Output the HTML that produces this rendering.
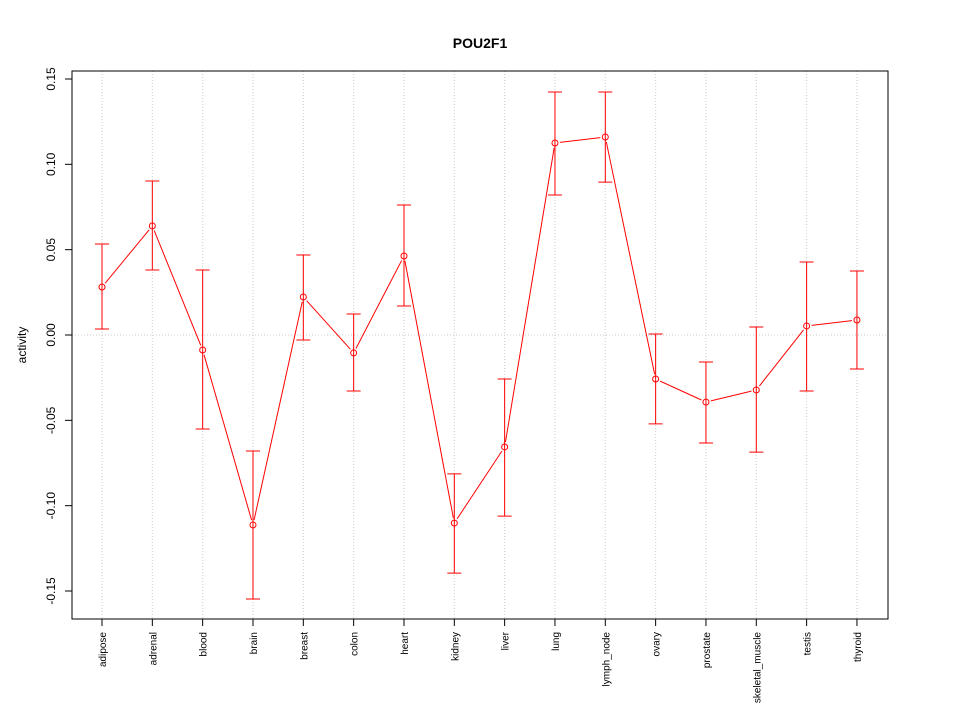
<!DOCTYPE html>
<html><head><meta charset="utf-8"><style>body{margin:0;background:#fff}text{font-family:"Liberation Sans",sans-serif}</style></head>
<body>
<svg id="chart" width="960" height="720" xmlns="http://www.w3.org/2000/svg">
<text x="480" y="48" text-anchor="middle" font-size="14" font-weight="bold">POU2F1</text>
<text transform="translate(26,345) rotate(-90)" text-anchor="middle" font-size="12">activity</text>
<g id="grid"></g><g id="axes"></g><g id="marks"></g>
<rect x="72" y="71" width="816" height="548" fill="none" stroke="#000"/>
</svg>
<script>
const categories=["adipose","adrenal","blood","brain","breast","colon","heart","kidney","liver","lung","lymph_node","ovary","prostate","skeletal_muscle","testis","thyroid"];
const values=[0.0281,0.0639,-0.0088,-0.1113,0.0223,-0.0105,0.0463,-0.1102,-0.0656,0.1125,0.116,-0.0258,-0.0393,-0.0322,0.0053,0.0088];
const upper=[0.0533,0.0902,0.0381,-0.068,0.0469,0.0123,0.0762,-0.0814,-0.0258,0.1424,0.1424,0.0006,-0.0158,0.0047,0.0428,0.0375];
const lower=[0.0035,0.0381,-0.0551,-0.1547,-0.0029,-0.0328,0.017,-0.1395,-0.1061,0.082,0.0896,-0.0521,-0.0633,-0.0686,-0.0328,-0.0199];
const yTicks=[-0.15,-0.10,-0.05,0.00,0.05,0.10,0.15];
const yLabels=["-0.15","-0.10","-0.05","0.00","0.05","0.10","0.15"];
const NS="http://www.w3.org/2000/svg";
const y=v=>335-v*1706.67;
const x=i=>102+i*50.33;
function mk(tag,attrs,parent){const e=document.createElementNS(NS,tag);for(const k in attrs)e.setAttribute(k,attrs[k]);parent.appendChild(e);return e;}
const grid=document.getElementById('grid'),axes=document.getElementById('axes'),marks=document.getElementById('marks');
let g=mk('line',{x1:72,x2:888,y1:y(0),y2:y(0),stroke:'#ccc','stroke-dasharray':'1,2'},grid);


categories.forEach((c,i)=>{
 const l=mk('line',{x1:x(i),x2:x(i),y1:71,y2:619,stroke:'#ccc','stroke-dasharray':'1,2'},grid);
 
 
 const t=mk('line',{x1:x(i),x2:x(i),y1:619,y2:626,stroke:'#000'},axes);
 
 
 const tx=mk('text',{transform:`translate(${x(i)+4},632) rotate(-90)`,'text-anchor':'end','font-size':'10'},axes);
 tx.textContent=c;
 
 
});
mk('line',{x1:72,x2:72,y1:y(0.15),y2:y(-0.15),stroke:'#000'},axes);
yTicks.forEach((v,i)=>{
 const t=mk('line',{x1:65,x2:72,y1:y(v),y2:y(v),stroke:'#000'},axes);
 
 
 const tx=mk('text',{transform:`translate(55,${y(v)}) rotate(-90)`,'text-anchor':'middle','font-size':'12'},axes);
 tx.textContent=yLabels[i];
 
 
});
for(let i=0;i<values.length-1;i++){
 const x1=x(i),y1=y(values[i]),x2=x(i+1),y2=y(values[i+1]);
 const d=Math.hypot(x2-x1,y2-y1),ux=(x2-x1)/d,uy=(y2-y1)/d,r=5;
 const l=mk('line',{x1:x1+ux*r,y1:y1+uy*r,x2:x2-ux*r,y2:y2-uy*r,stroke:'red'},marks);
 
 
}
categories.forEach((c,i)=>{
 const cx=x(i);
 const e=mk('path',{d:`M${cx},${y(upper[i])}V${y(lower[i])}M${cx-7},${y(upper[i])}H${cx+7}M${cx-7},${y(lower[i])}H${cx+7}`,stroke:'red',fill:'none'},marks);
 
 
 const p=mk('circle',{cx:cx,cy:y(values[i]),r:3,fill:'none',stroke:'red'},marks);
 
 
});
</script>
</body></html>
